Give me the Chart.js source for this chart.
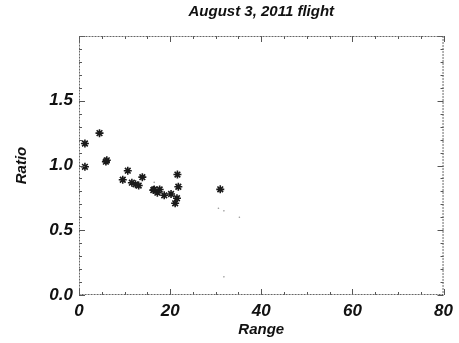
<!DOCTYPE html>
<html lang="en">
<head>
  <meta charset="UTF-8">
  <title>August 3, 2011 flight</title>
  <script src="https://cdn.jsdelivr.net/npm/chart.js@4.4.0/dist/chart.umd.min.js"></script>
  <style>
    html, body { margin: 0; padding: 0; background: #fff; }
    .chart-container { width: 459px; height: 343px; }
  </style>
</head>
<body>
  <div class="chart-container">
    <canvas id="ratioChart"></canvas>
  </div>

  <script>
    // Ratio vs range, one asterisk per sample
    const rangeValues = [1.3, 1.3, 4.5, 5.9, 6.1, 9.6, 10.7, 11.6, 12.4, 13.1, 13.9,
                         16.3, 16.5, 17.2, 17.7, 18.7, 20.2, 21.5, 21.1, 21.6, 21.8, 31.0];
    const ratioValues = [1.17, 0.99, 1.25, 1.03, 1.04, 0.89, 0.96, 0.867, 0.855, 0.845, 0.91,
                         0.81, 0.815, 0.79, 0.815, 0.77, 0.78, 0.747, 0.708, 0.93, 0.836, 0.816];

    // faint single-pixel samples
    const faintRange = [16.5, 30.6, 31.8, 35.2, 31.8];
    const faintRatio = [0.87, 0.67, 0.65, 0.60, 0.14];

    const xTickLabels = [0, 20, 40, 60, 80];
    const yTickLabels = [0.0, 0.5, 1.0, 1.5];

    const titleText = 'August 3, 2011 flight';
    const fontFamily = "'Liberation Sans', Arial, sans-serif";
    const labelFont = { family: fontFamily, size: 17, weight: 'bold', style: 'italic' };

    // title centred over the plot area rather than the whole canvas
    const plotTitle = {
      id: 'plotTitle',
      afterDraw(chart) {
        const { ctx, chartArea: a } = chart;
        ctx.save();
        ctx.font = `italic bold 15px ${fontFamily}`;
        ctx.fillStyle = '#111';
        ctx.textAlign = 'center';
        ctx.textBaseline = 'middle';
        ctx.fillText(titleText, (a.left + a.right) / 2, 12);
        ctx.restore();
      }
    };

    // inward major/minor ticks on all four sides
    const frameTicks = {
      id: 'frameTicks',
      afterDraw(chart) {
        const { ctx, chartArea: a, scales: { x, y } } = chart;
        ctx.save();
        ctx.strokeStyle = '#555';
        ctx.lineWidth = 1;
        ctx.beginPath();
        for (let v = 0; v <= 80; v += 5) {
          const px = Math.round(x.getPixelForValue(v)) + 0.5;
          const len = v % 20 === 0 ? 6 : 3;
          ctx.moveTo(px, a.bottom); ctx.lineTo(px, a.bottom - len);
          ctx.moveTo(px, a.top); ctx.lineTo(px, a.top + len);
        }
        for (let i = 0; i <= 20; i++) {
          const py = Math.round(y.getPixelForValue(i / 10)) + 0.5;
          const len = i % 5 === 0 ? 6 : 3;
          ctx.moveTo(a.left, py); ctx.lineTo(a.left + len, py);
          ctx.moveTo(a.right, py); ctx.lineTo(a.right - len, py);
        }
        ctx.stroke();
        ctx.setLineDash([2, 1]);
        ctx.strokeStyle = '#666';
        ctx.strokeRect(a.left + 0.5, a.top + 0.5, a.right - a.left - 1, a.bottom - a.top - 1);
        ctx.restore();
      }
    };

    const ctx = document.getElementById('ratioChart').getContext('2d');
    new Chart(ctx, {
      type: 'scatter',
      data: {
        datasets: [{
          data: rangeValues.map((r, i) => ({ x: r, y: ratioValues[i] })),
          pointStyle: 'star',
          pointRadius: 4,
          pointBorderWidth: 1.6,
          borderColor: '#1a1a1a',
          backgroundColor: '#1a1a1a'
        }, {
          data: faintRange.map((r, i) => ({ x: r, y: faintRatio[i] })),
          pointStyle: 'circle',
          pointRadius: 0.8,
          pointBorderWidth: 0,
          backgroundColor: '#999'
        }]
      },
      options: {
        responsive: true,
        maintainAspectRatio: false,
        animation: false,
        layout: { padding: { left: 0, right: 6, top: 36, bottom: 0 } },
        plugins: {
          legend: { display: false },
          tooltip: { enabled: false },
          title: { display: false }
        },
        scales: {
          x: {
            type: 'linear',
            min: 0,
            max: 80,
            afterBuildTicks: s => { s.ticks = xTickLabels.map(v => ({ value: v })); },
            afterFit: s => { s.height = 48; },
            grid: { display: false, drawTicks: false },
            border: { display: false },
            ticks: { color: '#111', font: labelFont, padding: 6 },
            title: { display: true, text: 'Range', color: '#111', font: { ...labelFont, size: 15 }, padding: { top: 0, bottom: 4 } }
          },
          y: {
            type: 'linear',
            min: 0,
            max: 2,
            afterBuildTicks: s => { s.ticks = yTickLabels.map(v => ({ value: v })); },
            afterFit: s => { s.width = 79; },
            grid: { display: false, drawTicks: false },
            border: { display: false },
            ticks: { color: '#111', font: labelFont, padding: 6, callback: v => v.toFixed(1) },
            title: { display: true, text: 'Ratio', color: '#111', font: { ...labelFont, size: 15 }, padding: { top: 13, bottom: 0 } }
          }
        }
      },
      plugins: [frameTicks, plotTitle]
    });
  </script>
</body>
</html>
